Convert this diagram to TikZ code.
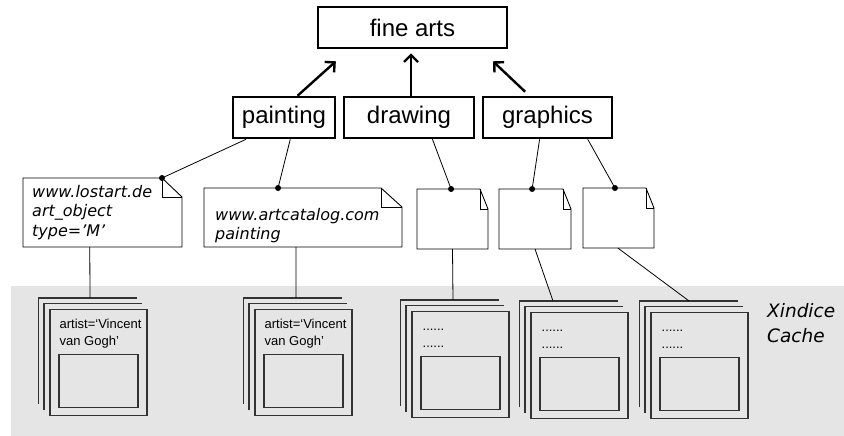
\documentclass[tikz,border=0pt]{standalone}
\usepackage{fontspec}
\setmainfont{Liberation Sans}
\newfontfamily\notefont{DejaVu Sans}
\usepackage{tikz}
\usetikzlibrary{shapes,arrows,arrows.meta,calc,positioning}
\tikzstyle{tsConcept} = [ 
    rectangle,
    draw=black,
    line width=2.6pt,
    minimum height=41pt,
    inner sep=0pt,
    font=\fontsize{24}{28}\selectfont
]
\tikzstyle{tsIsA} = [ 
    line width=2.4pt,
    -{Straight Barb[length=7pt,width=14pt]}
]
\tikzstyle{tsNote} = [ 
    rectangle,
    draw=none,
    inner sep=0pt,
    outer sep=0pt
]
\tikzstyle{tsNoteLine} = [ 
    line width=0.9pt,
    line join=miter
]
\tikzstyle{tsNoteText} = [ 
    anchor=north west,
    inner sep=0pt,
    align=left,
    font=\notefont\itshape\fontsize{16}{19.5}\selectfont
]
\tikzstyle{tsLink} = [line width=0.8pt]
\tikzstyle{tsStack} = [ 
    rectangle,
    draw=black!80,
    line width=1.1pt,
    minimum width=97pt,
    minimum height=106pt,
    inner sep=0pt
]
\tikzstyle{tsInner} = [ 
    tsStack,
    minimum width=79pt,
    minimum height=53pt
]
\tikzstyle{tsStackLine} = [draw=black!80, line width=1.1pt]
\tikzstyle{tsStackText} = [ 
    anchor=north west,
    inner sep=0pt,
    align=left,
    font=\fontsize{13}{17}\selectfont
]
% note outline with folded corner: name, fold width, fold height
\newcommand{\foldnote}[3]{%
    \draw[tsNoteLine] (#1.north west) -- ($(#1.north east)+(-#2,0)$) -- ($(#1.north east)+(0,#3)$) -- (#1.south east) -- (#1.south west) -- cycle;
    \draw[tsNoteLine] ($(#1.north east)+(-#2,0)$) |- ($(#1.north east)+(0,#3)$);
}

\begin{document}
\begin{tikzpicture}[x=1pt, y=-1pt]

        \useasboundingbox (0,0) rectangle (844,436);
        \fill[black!10] (11,286) rectangle (844,436);

        % concept hierarchy
        \node[tsConcept, minimum width=189pt] (fineArts) at (412.5,27.5) {fine arts};
        \node[tsConcept, minimum width=102pt] (painting) at (284,117.5) {painting};
        \node[tsConcept, minimum width=130pt] (drawing) at (409,117.5) {drawing};
        \node[tsConcept, minimum width=129pt] (graphics) at (547.5,117.5) {graphics};

        \draw[tsIsA] ($(painting.north west)!0.63!(painting.north east)$) -- ($(fineArts.south west)!0.10!(fineArts.south east)+(0,12)$);
        \draw[tsIsA] ($(drawing.north)+(2,0)$) -- ($(fineArts.south)+(-1.5,4)$);
        \draw[tsIsA] ($(graphics.north west)!0.33!(graphics.north east)+(0,-4)$) -- ($(fineArts.south west)!0.92!(fineArts.south east)+(0,12)$);

        % source notes
        \node[tsNote, minimum width=159pt, minimum height=69pt] (n1) at (102.5,212.5) {};
        \node[tsNote, minimum width=198pt, minimum height=59pt] (n2) at (303,217.5) {};
        \node[tsNote, minimum width=71pt, minimum height=60pt] (n3) at (452.5,219) {};
        \node[tsNote, minimum width=72pt, minimum height=60pt] (n4) at (535,219) {};
        \node[tsNote, minimum width=71pt, minimum height=60pt] (n5) at (618.5,218) {};
        \foldnote{n1}{20}{19}
        \foldnote{n2}{21}{19}
        \foldnote{n3}{8}{20}
        \foldnote{n4}{8}{20}
        \foldnote{n5}{8}{20}

        \node[tsNoteText] (n1text) at ($(n1.north west)+(9,6.8)$) {www.lostart.de\\art\_object\\type=’M’};
        \node[tsNoteText] (n2text) at ($(n2.north west)+(11,19.8)$) {www.artcatalog.com\\painting};

        \coordinate (d1) at ($(n1.north east)+(-20,0)$);
        \coordinate (d2) at ($(n2.north west)!0.374!(n2.north east)$);
        \coordinate (d3) at ($(n3.north west)!0.48!(n3.north east)$);
        \coordinate (d4) at ($(n4.north west)!0.46!(n4.north east)$);
        \coordinate (d5) at ($(n5.north west)!0.45!(n5.north east)$);
        \foreach \i in {1,...,5} \fill (d\i) circle (3pt);

        \draw[tsLink] ($(painting.south west)!0.137!(painting.south east)$) -- (d1);
        \draw[tsLink] ($(painting.south west)!0.56!(painting.south east)$) -- (d2);
        \draw[tsLink] ($(drawing.south west)!0.677!(drawing.south east)$) -- (d3);
        \draw[tsLink] ($(graphics.south west)!0.44!(graphics.south east)$) -- (d4);
        \draw[tsLink] ($(graphics.south west)!0.806!(graphics.south east)$) -- (d5);

        % cached documents
        \foreach \i/\x/\y in {1/98.5/362.5, 2/303.5/362.5, 3/460.5/364.5, 4/579.5/365.5, 5/699.5/365.5} {
            \node[tsStack] (s\i) at (\x,\y) {};
            \node[tsInner] (b\i) at ($(s\i.south)+(0,-35)$) {};
            \draw[tsStackLine] ($(s\i.south west)+(-5.5,-6)$) |- ($(s\i.north east)+(-5.5,-5.5)$);
            \draw[tsStackLine] ($(s\i.south west)+(-11,-12)$) |- ($(s\i.north east)+(-11,-11)$);
        }

        \node[tsStackText] (t1) at ($(s1.north west)+(10,9.5)$) {artist=‘Vincent\\van Gogh’};
        \node[tsStackText] (t2) at ($(s2.north west)+(10,9.5)$) {artist=‘Vincent\\van Gogh’};
        \foreach \i in {3,4,5} \node[tsStackText] (t\i) at ($(s\i.north west)+(11,17.6)$) {......\\......};

        \draw[tsLink] ($(n1.south west)!0.42!(n1.south east)$) -- ($(s1.north)+(-8.5,-11)$);
        \draw[tsLink] ($(n2.south west)!0.465!(n2.south east)$) -- ($(s2.north)+(-7.5,-11)$);
        \draw[tsLink] ($(n3.south west)!0.5!(n3.south east)$) -- ($(s3.north)+(-7.5,-11)$);
        \draw[tsLink] ($(n4.south west)!0.5!(n4.south east)$) -- ($(s4.north)+(-26.5,-11)$);
        \draw[tsLink] ($(n5.south west)!0.49!(n5.south east)$) -- ($(s5.north)+(-10.5,-11)$);

        \node[tsNoteText, font=\notefont\itshape\fontsize{18.5}{25}\selectfont] (cache) at (767,303) {Xindice\\Cache};

\end{tikzpicture}
\end{document}
